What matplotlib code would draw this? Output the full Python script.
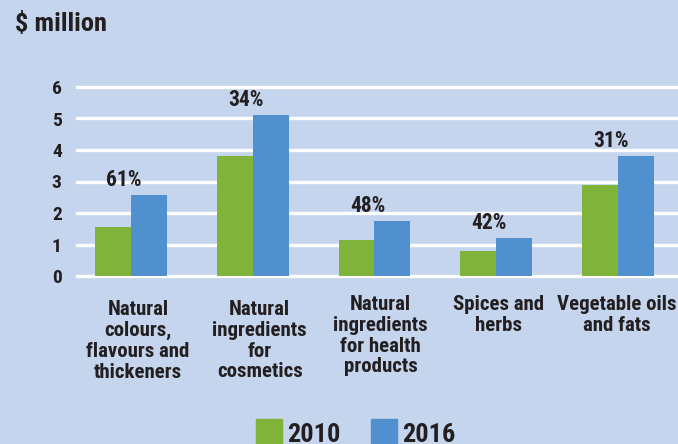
import matplotlib
matplotlib.use("Agg")
import matplotlib.pyplot as plt
import matplotlib.transforms as mtransforms
import numpy as np

categories = ["Natural\ncolours,\nflavours and\nthickeners",
              "Natural\ningredients\nfor\ncosmetics",
              "Natural\ningredients\nfor health\nproducts",
              "Spices and\nherbs",
              "Vegetable oils\nand fats"]
values_2010 = [1.56, 3.82, 1.14, 0.79, 2.89]
values_2016 = [2.57, 5.11, 1.75, 1.21, 3.81]
growth = ["61%", "34%", "48%", "42%", "31%"]
series = ["2010", "2016"]
yticks = [0, 1, 2, 3, 4, 5, 6]

# layout: horizontal / vertical nudges (pixels) of the category labels
label_dx_px = [7, 7, 6, 2, -1]
label_dy_px = [24, 24, 19, 19, 19]

plt.rcParams["font.family"] = ["Roboto Condensed", "DejaVu Sans"]

BG = "#C5D5EE"
GREEN = "#80B33A"
BLUE = "#5090CE"
TXT = "#231F20"

W, H = 678, 444
fig = plt.figure(figsize=(W / 100, H / 100), dpi=100, facecolor=BG)
ax = fig.add_axes([77 / W, (H - 276) / H, (W - 77) / W, 189 / H])
ax.set_facecolor(BG)
for s in ax.spines.values():
    s.set_visible(False)

x = np.arange(len(categories))
bw = 0.295
ax.set_xlim(-0.4435, 4.493)
ax.set_ylim(0, 6)

for t in yticks:
    ax.axhline(t, color="white", lw=2.4, zorder=1, clip_on=False)

ax.bar(x - bw / 2, values_2010, width=bw, color=GREEN, zorder=2, linewidth=0)
ax.bar(x + bw / 2, values_2016, width=bw, color=BLUE, zorder=2, linewidth=0)

ax.set_xticks([])
ax.set_yticks(yticks)
ax.set_yticklabels([str(t) for t in yticks], fontsize=14, fontweight="bold",
                   color=TXT)
ax.tick_params(axis="y", length=0, pad=11)

# growth labels
for xi, v, g in zip(x, values_2016, growth):
    ax.annotate(g, (xi, v), xytext=(-5, 3), textcoords="offset points",
                ha="center", va="bottom", fontsize=15.5, fontweight="bold",
                color=TXT)

# category labels
for xi, c, dx, dy in zip(x, categories, label_dx_px, label_dy_px):
    ax.annotate(c, (xi, 0), xycoords=("data", "axes fraction"),
                xytext=(dx * 0.72, -dy * 0.72), textcoords="offset points",
                ha="center", va="top", fontsize=15, fontweight="bold",
                color=TXT, linespacing=1.12)

# title
fig.text(15 / W, 1 - 31 / H, "$ million", ha="left", va="baseline",
         fontsize=19, fontweight="bold", color=TXT)

# legend
for px, col, lab in [(256, GREEN, series[0]), (371, BLUE, series[1])]:
    fig.patches.append(plt.Rectangle((px / W, 0), 26 / W, 25 / H,
                                     transform=fig.transFigure, color=col,
                                     figure=fig))
    fig.text((px + 31) / W, 1 - 442 / H, lab, ha="left", va="baseline",
             fontsize=19, fontweight="bold", color=TXT)

fig.savefig("out.png", dpi=100, facecolor=BG)
